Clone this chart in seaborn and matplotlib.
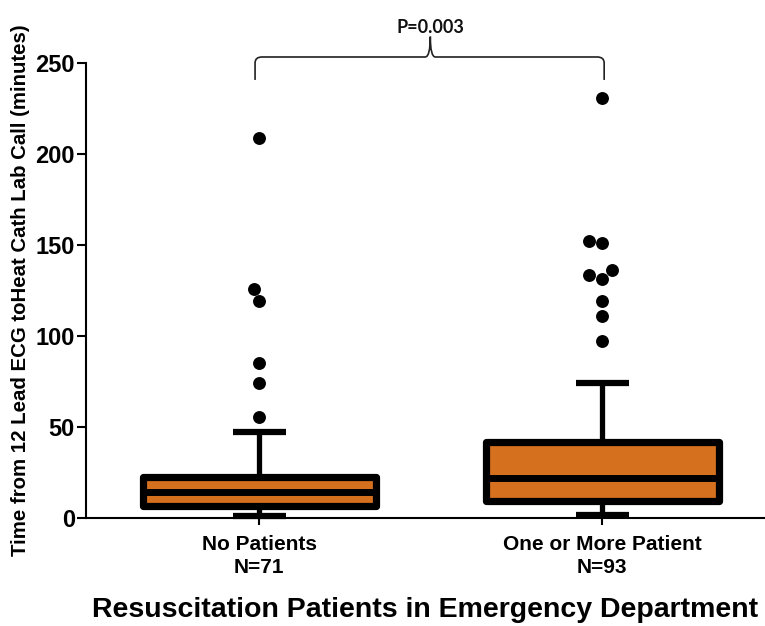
import pandas as pd
import matplotlib.pyplot as plt
import seaborn as sns
from matplotlib.path import Path
from matplotlib.patches import PathPatch

# values
groups = ['No Patients\nN=71', 'One or More Patient\nN=93']
q1 = [6.4, 9.3]
median = [14.1, 21.8]
q3 = [22.7, 41.9]
whisker_low = [1.0, 1.5]
whisker_high = [47.0, 74.0]
outliers_no = [55.5, 74.4, 85.3, 119.4, 126.0, 208.6]
outliers_one = [97.0, 111.0, 119.4, 131.3, 133.5, 136.3, 151.0, 152.4, 231.0]
p_text = 'P=0.003'

box_color = '#D5701F'

sns.set_style('ticks')
plt.rcParams['font.family'] = ['Liberation Sans', 'DejaVu Sans']
plt.rcParams['font.weight'] = 'bold'
plt.rcParams['text.color'] = 'black'
plt.rcParams['axes.labelcolor'] = 'black'
plt.rcParams['xtick.color'] = 'black'
plt.rcParams['ytick.color'] = 'black'
plt.rcParams['axes.edgecolor'] = 'black'

fig = plt.figure(figsize=(7.65, 6.26), dpi=100)
ax = fig.add_axes([86 / 765, 1 - 518 / 626, 679 / 765, 455 / 626])

# box summary stats -> matplotlib bxp
stats = []
for i in range(len(groups)):
    stats.append(dict(q1=q1[i], med=median[i], q3=q3[i],
                      whislo=whisker_low[i], whishi=whisker_high[i],
                      fliers=[], label=groups[i]))

art = ax.bxp(stats, positions=[0, 1], widths=0.68, patch_artist=True,
             showfliers=False, capwidths=0.155,
             boxprops=dict(facecolor=box_color, edgecolor='black',
                           linewidth=5.2, joinstyle='round'),
             medianprops=dict(color='black', linewidth=5, solid_capstyle='butt'),
             whiskerprops=dict(color='black', linewidth=3.8),
             capprops=dict(color='black', linewidth=4.5, solid_capstyle='butt'))
for key in art:
    for a in art[key]:
        a.set_clip_on(False)

# outlier points
df = pd.DataFrame({
    'group': [groups[0]] * len(outliers_no) + [groups[1]] * len(outliers_one),
    'value': outliers_no + outliers_one,
})
sns.swarmplot(data=df, x='group', y='value', order=groups, color='black',
              size=9.3, linewidth=0, ax=ax, zorder=5)

ax.set_xlim(-0.505, 1.475)
ax.set_ylim(0, 250)
ax.set_yticks([0, 50, 100, 150, 200, 250])
ax.set_xticks([0, 1])
ax.set_xticklabels(groups, fontsize=15, fontweight='bold', linespacing=1.3)
ax.tick_params(axis='y', labelsize=17, length=6.5, width=1.5, pad=1.5)
ax.tick_params(axis='x', length=5, width=1.5, pad=7)
for lab in ax.get_yticklabels():
    lab.set_fontweight('bold')

ax.set_xlabel('Resuscitation Patients in Emergency Department',
              fontsize=20.5, fontweight='bold', labelpad=14)
ax.set_ylabel('Time from 12 Lead ECG toHeat Cath Lab Call (minutes)',
              fontsize=14.7, fontweight='bold', labelpad=4)

sns.despine(ax=ax)
ax.spines['left'].set_linewidth(1.5)
ax.spines['bottom'].set_linewidth(1.5)

# curly brace with p-value
x0, x1, xc = -0.012, 1.006, 0.499
y_end, y_bar, y_tip = 240.7, 253.3, 264.5
verts = [(x0, y_end), (x0, 250.0), (x0, y_bar), (x0 + 0.02, y_bar),
         (xc - 0.015, y_bar), (xc, y_bar), (xc, y_tip),
         (xc, y_bar), (xc + 0.015, y_bar),
         (x1 - 0.02, y_bar), (x1, y_bar), (x1, 250.0), (x1, y_end)]
codes = [Path.MOVETO, Path.LINETO, Path.CURVE3, Path.CURVE3,
         Path.LINETO, Path.CURVE3, Path.CURVE3,
         Path.CURVE3, Path.CURVE3,
         Path.LINETO, Path.CURVE3, Path.CURVE3, Path.LINETO]
brace = PathPatch(Path(verts, codes), facecolor='none', edgecolor='#222222',
                  linewidth=1.2, clip_on=False)
ax.add_patch(brace)
ax.text(xc, 269.6, p_text, ha='center', va='center', fontsize=13,
        fontweight='bold', family=['Lato', 'DejaVu Sans'], color='#111111',
        clip_on=False)

fig.savefig('out.png', dpi=100)
